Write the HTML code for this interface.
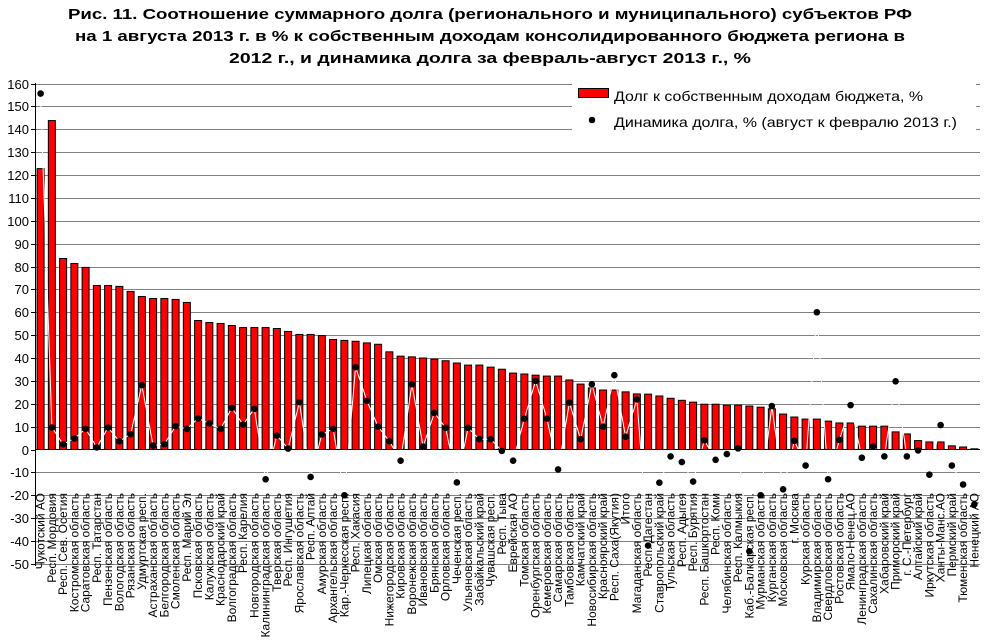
<!DOCTYPE html>
<html><head><meta charset="utf-8">
<style>
html,body{margin:0;padding:0;background:#fff;}
svg{display:block;font-family:"Liberation Sans",Arial,sans-serif;}
</style></head>
<body>
<svg id="c" width="984" height="643" viewBox="0 0 984 643" xmlns="http://www.w3.org/2000/svg">
<text x="490" y="19" text-anchor="middle" font-size="15" font-weight="bold" textLength="844" lengthAdjust="spacingAndGlyphs">Рис. 11. Соотношение суммарного долга (регионального и муниципального) субъектов РФ</text>
<text x="490" y="41" text-anchor="middle" font-size="15" font-weight="bold" textLength="830" lengthAdjust="spacingAndGlyphs">на 1 августа 2013 г. в % к собственным доходам консолидированного бюджета региона в</text>
<text x="490" y="63" text-anchor="middle" font-size="15" font-weight="bold" textLength="522" lengthAdjust="spacingAndGlyphs">2012 г., и динамика долга за февраль-август 2013 г., %</text>
<g id="grid"></g>
<g id="bars"></g>
<g id="line"></g>
<g id="dots"></g>
<g id="labels" font-size="12"></g>
<g id="yl" font-size="13" text-anchor="end"></g>
<rect x="572" y="80" width="404" height="55" fill="#fff"/>
<rect x="578.5" y="88.5" width="30" height="9" fill="#ff0000" stroke="#000" stroke-width="1"/>
<text x="614" y="101" font-size="14" textLength="309" lengthAdjust="spacingAndGlyphs">Долг к собственным доходам бюджета, %</text>
<circle cx="592" cy="120" r="3.3" fill="#000"/>
<text x="614" y="127" font-size="14" textLength="343" lengthAdjust="spacingAndGlyphs">Динамика долга, % (август к февралю 2013 г.)</text>
</svg>
<script>
var names=["Чукотский АО","Респ. Мордовия","Респ. Сев. Осетия","Костромская область","Саратовская область","Респ. Татарстан","Пензенская область","Вологодская область","Рязанская область","Удмуртская респ.","Астраханская область","Белгородская область","Смоленская область","Респ. Марий Эл","Псковская область","Калужская область","Краснодарский край","Волгоградская область","Респ. Карелия","Новгородская область","Калининградская область","Тверская область","Респ. Ингушетия","Ярославская область","Респ. Алтай","Амурская область","Архангельская область","Кар.-Черкесская респ.","Респ. Хакасия","Липецкая область","Омская область","Нижегородская область","Кировская область","Воронежская область","Ивановская область","Брянская область","Орловская область","Чеченская респ.","Ульяновская область","Забайкальский край","Чувашская респ.","Респ. Тыва","Еврейская АО","Томская область","Оренбургская область","Кемеровская область","Самарская область","Тамбовская область","Камчатский край","Новосибирская область","Красноярский край","Респ. Саха(Якутия)","Итого","Магаданская область","Респ. Дагестан","Ставропольский край","Тульская область","Респ. Адыгея","Респ. Бурятия","Респ. Башкортостан","Респ. Коми","Челябинская область","Респ. Калмыкия","Каб.-Балкарская респ.","Мурманская область","Курганская область","Московская область","г. Москва","Курская область","Владимирская область","Свердловская область","Ростовская область","Ямало-Ненец.АО","Ленинградская область","Сахалинская область","Хабаровский край","Приморский край","г. С.-Петербург","Алтайский край","Иркутская область","Ханты-Манс.АО","Пермский край","Тюменская область","Ненецкий АО"];
var bars=[122.8,143.8,83.5,81.3,79.6,71.7,71.7,71.3,69.1,66.9,66,66,65.6,64.3,56.4,55.5,55.1,54.2,53.3,53.3,53.3,52.9,51.6,50.3,50.3,49.8,48.1,47.7,47.3,46.6,46,42.7,40.8,40.5,40,39.5,38.8,37.8,36.9,36.9,36,35.1,33.4,33,32.5,32.1,32.1,30.4,28.6,26.9,26,26,25.2,24.3,24.2,23.4,22.4,21.5,20.7,19.8,19.8,19.4,19.4,19,18.5,17.8,15.5,14.2,13.3,13.3,12.4,11.6,11.6,10.2,10.2,10.2,7.7,6.8,3.9,3.3,3.3,1.6,1.1,0.3];
var dots=[155.6,9.6,2.3,4.8,9,0.9,9.6,3.6,6.7,28.1,1.7,2.3,10.2,9,13.6,11.4,9,18.2,10.9,17.8,-13,6.1,0.4,20.7,-12,6.6,9,-20,36,21.3,10,3.6,-4.9,28.5,1.3,16,9.5,-14.4,9.5,4.5,4.5,-0.6,-4.9,13.5,30,13.5,-8.7,20.5,4.5,28.5,10,32.5,5.6,21.9,-42,-14.5,-3,-5.5,-14,4,-4.5,-2,0.5,-44.5,-20,19,-17.4,3.8,-7,60,-13,4.2,19.4,-3.6,1.3,-3,29.8,-3,-0.4,-11,10.7,-7,-15.3,-24];
var NS="http://www.w3.org/2000/svg";
function Y(v){return 449.5-v*2.2875;}
function X(i){return 40.6+11.25*i;}
function el(p,t,a,txt){var e=document.createElementNS(NS,t);for(var k in a)e.setAttribute(k,a[k]);if(txt!=null)e.textContent=txt;document.getElementById(p).appendChild(e);return e;}
for(var v=-50;v<=160;v+=10){var y=Math.round(Y(v))+0.5;
 if(v!==0)el("grid","line",{x1:35,x2:980,y1:y,y2:y,stroke:"#808080","stroke-width":1});
 el("grid","line",{x1:31,x2:35,y1:y,y2:y,stroke:"#000","stroke-width":1});
 el("yl","text",{x:29,y:y+4.5},String(v));}
for(var i=0;i<84;i++){var x=X(i),t=Y(bars[i]);
 el("bars","rect",{x:x-3.5,y:t,width:7,height:Y(0)-t,fill:"#ff0000",stroke:"#000","stroke-width":1});
 el("labels","text",{x:0,y:0,transform:"translate("+(x+4)+",493) rotate(-90)","text-anchor":"end"},names[i]);}
var pts=[];for(var i=0;i<84;i++)pts.push(X(i).toFixed(1)+","+Y(dots[i]).toFixed(1));
el("line","polyline",{points:pts.join(" "),fill:"none",stroke:"#fff","stroke-width":1});
el("grid","line",{x1:35,x2:980,y1:449.5,y2:449.5,stroke:"#000","stroke-width":1});
el("dots","line",{x1:35,x2:980,y1:449.5,y2:449.5,stroke:"#000","stroke-width":1});
el("grid","line",{x1:35.5,x2:35.5,y1:83,y2:566,stroke:"#000","stroke-width":1});
for(var i=0;i<84;i++)el("dots","circle",{cx:X(i),cy:Y(dots[i]),r:3.3,fill:"#000"});
</script>
</body></html>
